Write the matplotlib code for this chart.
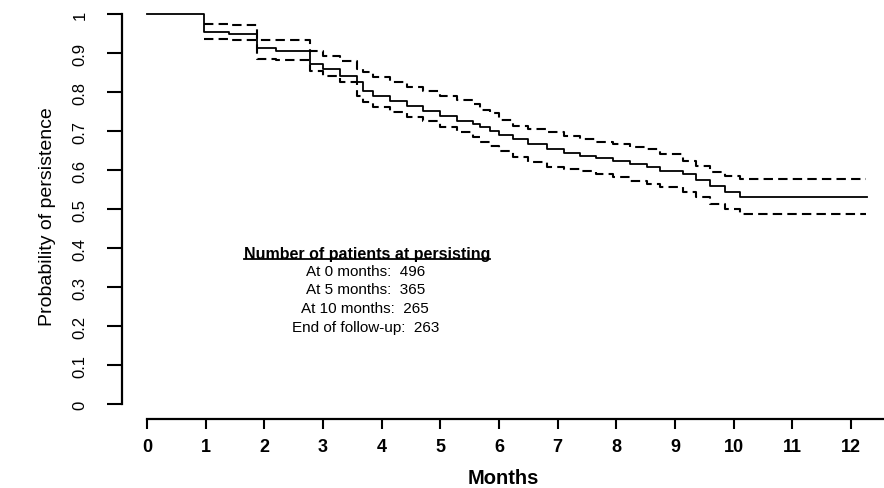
import matplotlib
matplotlib.use("Agg")
import matplotlib.pyplot as plt
from matplotlib.lines import Line2D
from matplotlib import font_manager

# Kaplan-Meier estimate of persistence (months)
months = [0, 0.98, 1.4, 1.87, 2.2, 2.78, 3.0, 3.29, 3.58, 3.68, 3.85, 4.14, 4.43,
          4.70, 4.99, 5.28, 5.55, 5.67, 5.84, 6.0, 6.24, 6.5, 6.81, 7.1, 7.38, 7.65,
          7.94, 8.23, 8.52, 8.74, 9.13, 9.35, 9.59, 9.85, 10.1]
surv = [1.0, 0.955, 0.949, 0.913, 0.905, 0.872, 0.859, 0.841, 0.825, 0.803, 0.790,
        0.777, 0.764, 0.751, 0.738, 0.726, 0.718, 0.710, 0.700, 0.690, 0.679, 0.667,
        0.654, 0.645, 0.636, 0.630, 0.623, 0.615, 0.608, 0.597, 0.590, 0.575, 0.559,
        0.545, 0.531]
upper = [1.0, 0.974, 0.972, 0.933, 0.932, 0.905, 0.892, 0.880, 0.859, 0.850, 0.838,
         0.825, 0.813, 0.803, 0.790, 0.780, 0.769, 0.755, 0.745, 0.728, 0.713, 0.705,
         0.697, 0.688, 0.679, 0.673, 0.667, 0.660, 0.654, 0.641, 0.623, 0.610, 0.595,
         0.586, 0.577]
lower = [1.0, 0.936, 0.933, 0.885, 0.882, 0.854, 0.841, 0.825, 0.790, 0.775, 0.761,
         0.749, 0.736, 0.726, 0.710, 0.697, 0.685, 0.672, 0.662, 0.650, 0.633, 0.620,
         0.608, 0.603, 0.597, 0.590, 0.582, 0.573, 0.564, 0.556, 0.544, 0.530, 0.513,
         0.500, 0.487]
end_solid = 12.27
end_ci = 12.25

xticks = list(range(0, 13))
yticks = [0, 0.1, 0.2, 0.3, 0.4, 0.5, 0.6, 0.7, 0.8, 0.9, 1]
ytick_labels = ["0", "0.1", "0.2", "0.3", "0.4", "0.5", "0.6", "0.7", "0.8", "0.9", "1"]

box_title = "Number of patients at persisting"
box_lines = ["At 0 months:  496", "At 5 months:  365", "At 10 months:  265",
             "End of follow-up:  263"]
box_y = [0.341, 0.295, 0.246, 0.197]

# narrow font for the y axis if there is one, else regular one a bit smaller
try:
    font_manager.findfont("Liberation Sans Narrow", fallback_to_default=False)
    narrow = ["Liberation Sans Narrow"]
    ysize, ylabsize = 13, 15
except Exception:
    narrow = ["Liberation Sans"]
    ysize, ylabsize = 12, 14
arial = ["Liberation Sans", "DejaVu Sans"]

fig = plt.figure(figsize=(8.84, 4.89), dpi=100)
ax = fig.add_axes([0.138, 0.141, 0.862, 0.8324])
ax.set_xlim(-0.426, 12.56)
ax.set_ylim(-0.038, 1.005)

# CI lines only start once the curve leaves 1
ax.step(months[1:] + [end_ci], upper[1:] + [upper[-1]], where="post", color="black",
        lw=1.5, dashes=(4.5, 2.5), clip_on=False)
ax.step(months[1:] + [end_ci], lower[1:] + [lower[-1]], where="post", color="black",
        lw=1.5, dashes=(4.5, 2.5), clip_on=False)
ax.step(months + [end_solid], surv + [surv[-1]], where="post", color="black", lw=1.3,
        clip_on=False)

for s in ["top", "right"]:
    ax.spines[s].set_visible(False)
ax.spines["left"].set_bounds(0, 1)
ax.spines["bottom"].set_bounds(0, 12.56)
ax.spines["left"].set_linewidth(1.6)
ax.spines["bottom"].set_linewidth(1.6)

ax.set_yticks(yticks)
ax.set_yticklabels(ytick_labels, rotation=90, va="center", family=narrow, fontsize=ysize)
ax.tick_params(axis="y", length=10.8, width=1.5, pad=14)
ax.set_xticks(xticks)
ax.set_xticklabels([str(t) for t in xticks], family=arial, fontsize=13, fontweight="bold")
ax.tick_params(axis="x", length=7, width=1.5, pad=7)

ax.set_ylabel("Probability of persistence", family=narrow, fontsize=ylabsize, labelpad=12)
ax.set_xlabel("Months", family=arial, fontsize=14.5, fontweight="bold", labelpad=9)

# patient counts box
t = ax.text(3.75, 0.387, box_title, ha="center", va="center", family=arial,
            fontsize=11.5, fontweight="bold")
for y, line in zip(box_y, box_lines):
    ax.text(3.72, y, line, ha="center", va="center", family=arial, fontsize=11)

fig.canvas.draw()
bb = t.get_window_extent().transformed(fig.transFigure.inverted())
fig.add_artist(Line2D([bb.x0, bb.x1], [bb.y0 + 0.003, bb.y0 + 0.003],
                      transform=fig.transFigure, color="black", lw=1.3))

fig.savefig("out.png", dpi=100)
